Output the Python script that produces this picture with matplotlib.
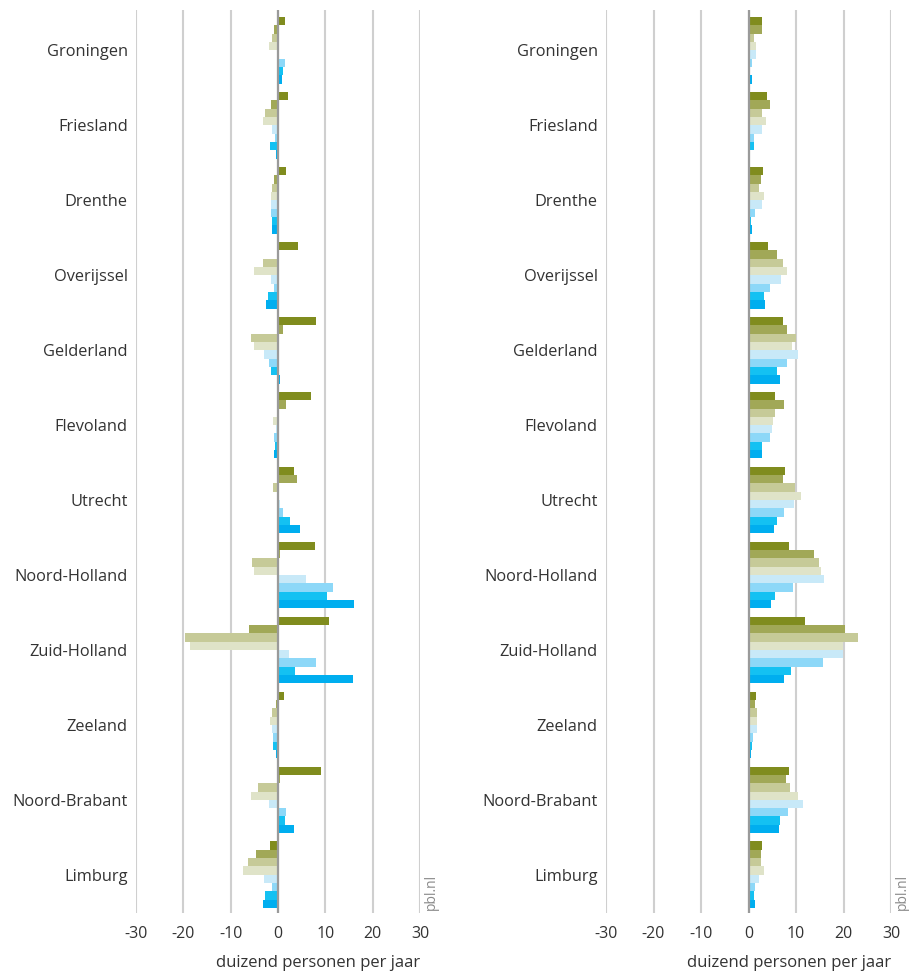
import numpy as np
import matplotlib
matplotlib.use("Agg")
import matplotlib.pyplot as plt

plt.rcParams['font.family'] = ['Open Sans', 'DejaVu Sans']

"""Provinces, top to bottom"""
PROVINCES = ['Groningen', 'Friesland', 'Drenthe', 'Overijssel', 'Gelderland',
             'Flevoland', 'Utrecht', 'Noord-Holland', 'Zuid-Holland', 'Zeeland',
             'Noord-Brabant', 'Limburg']

"""Bar colours, one per series (top bar of a group first)"""
COLORS = ['#808c1e', '#a1a857', '#c6ca98', '#dfe3c8',
          '#c8e9f8', '#8dd8f8', '#14c1f2', '#00aeef']

# left panel, series 1..8, values per province (duizend personen per jaar)
LEFT_S1 = [1.5, 2.1, 1.7, 4.2, 8.0, 6.9, 3.4, 7.8, 10.7, 1.3, 9.1, -1.7]
LEFT_S2 = [-0.8, -1.5, -0.8, 0.0, 1.0, 1.7, 4.0, 0.4, -6.1, -0.4, 0.4, -4.6]
LEFT_S3 = [-1.3, -2.7, -1.3, -3.2, -5.7, 0.0, -1.1, -5.5, -19.6, -1.3, -4.2, -6.3]
LEFT_S4 = [-1.9, -3.2, -1.5, -5.1, -5.1, -1.1, 0.0, -5.1, -18.5, -1.7, -5.7, -7.4]
LEFT_S5 = [0.0, -1.3, -1.5, -1.5, -2.9, -0.4, 0.4, 5.9, 2.3, -1.3, -1.9, -2.9]
LEFT_S6 = [1.5, -0.6, -1.5, -0.8, -1.9, -0.8, 1.0, 11.6, 8.0, -1.1, 1.7, -1.3]
LEFT_S7 = [1.0, -1.7, -1.3, -2.1, -1.5, -0.6, 2.5, 10.3, 3.6, -1.1, 1.5, -2.7]
LEFT_S8 = [0.8, -0.4, -1.3, -2.5, 0.4, -0.8, 4.6, 16.0, 15.8, -0.4, 3.4, -3.2]

# right panel
RIGHT_S1 = [2.8, 3.9, 3.0, 4.1, 7.3, 5.6, 7.7, 8.5, 11.9, 1.5, 8.5, 2.8]
RIGHT_S2 = [2.8, 4.5, 2.6, 6.0, 8.1, 7.5, 7.3, 13.8, 20.4, 1.3, 7.9, 2.6]
RIGHT_S3 = [1.1, 2.8, 2.2, 7.3, 10.0, 5.6, 9.8, 14.9, 23.1, 1.8, 8.7, 2.6]
RIGHT_S4 = [1.5, 3.7, 3.2, 8.1, 9.2, 5.1, 11.1, 15.3, 19.9, 1.8, 10.4, 3.2]
RIGHT_S5 = [1.5, 2.8, 2.8, 6.8, 10.4, 4.9, 9.6, 15.9, 19.9, 1.8, 11.5, 2.2]
RIGHT_S6 = [0.7, 1.1, 1.3, 4.5, 8.1, 4.5, 7.5, 9.4, 15.7, 0.9, 8.3, 1.3]
RIGHT_S7 = [0.0, 1.1, 0.5, 3.2, 6.0, 2.8, 6.0, 5.6, 8.9, 0.7, 6.6, 1.1]
RIGHT_S8 = [0.7, 0.3, 0.7, 3.5, 6.6, 2.8, 5.4, 4.7, 7.5, 0.5, 6.4, 1.3]

XTICKS = [-30, -20, -10, 0, 10, 20, 30]
XLABEL = 'duizend personen per jaar'

TEXT = '#333333'


def draw_panel(ax, series):
    """Grouped horizontal bars, 8 per province"""
    y = np.arange(len(PROVINCES))
    h = 1 / 9
    for i, (vals, col) in enumerate(zip(series, COLORS)):
        ax.barh(y + (i - 3.5) * h, vals, height=h, color=col,
                linewidth=0, zorder=2)
    ax.axvline(0, color='#9a9a9a', linewidth=1.6, zorder=3)
    ax.set_xlim(-30, 30)
    ax.set_ylim(11.51, -0.54)
    ax.set_xticks(XTICKS)
    ax.set_xticklabels([str(t) for t in XTICKS])
    ax.grid(axis='x', color='#cfcfcf', linewidth=1.5, zorder=0)
    ax.set_axisbelow(True)
    for s in ax.spines.values():
        s.set_visible(False)
    ax.tick_params(axis='both', length=0, labelsize=11.5, colors=TEXT)
    ax.tick_params(axis='x', pad=9)
    ax.tick_params(axis='y', pad=6)
    ax.set_yticks(y)
    ax.set_yticklabels(PROVINCES, fontsize=11.8, color=TEXT)
    ax.set_xlabel(XLABEL, loc='right', fontsize=12, color=TEXT, labelpad=10)
    ax.text(1.04, 0.003, 'pbl.nl', transform=ax.transAxes, rotation=90,
            ha='center', va='bottom', fontsize=10, color='#8a8a8a')


fig = plt.figure(figsize=(9.09, 9.72), dpi=100)
ax1 = fig.add_axes([136 / 909, 1 - 913 / 972, 284 / 909, 903 / 972])
ax2 = fig.add_axes([606 / 909, 1 - 913 / 972, 285 / 909, 903 / 972])

draw_panel(ax1, [LEFT_S1, LEFT_S2, LEFT_S3, LEFT_S4,
                 LEFT_S5, LEFT_S6, LEFT_S7, LEFT_S8])
draw_panel(ax2, [RIGHT_S1, RIGHT_S2, RIGHT_S3, RIGHT_S4,
                 RIGHT_S5, RIGHT_S6, RIGHT_S7, RIGHT_S8])

fig.savefig('out.png', dpi=100)
